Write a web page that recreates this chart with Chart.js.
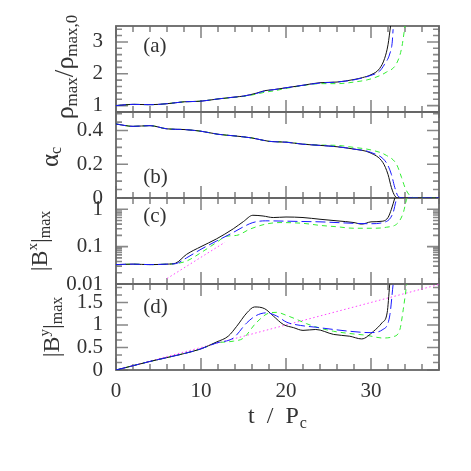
<!DOCTYPE html>
<html lang="en">
<head>
  <meta charset="UTF-8">
  <title>Collapse diagnostics</title>
  <script src="https://cdn.jsdelivr.net/npm/chart.js"></script>
  <style>
    html, body { margin: 0; padding: 0; background: #fff; }
  </style>
</head>
<body>
  <canvas id="myChart" width="471" height="471"></canvas>

  <script>
    // tick labels
    const xTicks = [0, 10, 20, 30];
    const rhoTicks = [1, 2, 3];
    const alphaTicks = [0, 0.2, 0.4];
    const bxTicks = [0.01, 0.1, 1];
    const byTicks = [0, 0.5, 1, 1.5];

    // (a) rho_max / rho_max,0
    const rhoBlackT = [0, 2, 4, 6, 8, 10, 12, 14, 15, 16.5, 17.5, 18.5, 20, 22, 24, 26, 28, 29, 30, 31, 31.6, 32, 32.3];
    const rhoBlack  = [1.0, 1.04, 1.03, 1.06, 1.12, 1.14, 1.21, 1.27, 1.3, 1.39, 1.47, 1.5, 1.56, 1.64, 1.72, 1.74, 1.82, 1.88, 1.97, 2.16, 2.48, 2.91, 3.5];
    const rhoBlueT  = [0, 2, 4, 6, 8, 10, 12, 14, 15, 16.5, 17.5, 18.5, 20, 22, 24, 26, 28, 29, 30, 31, 31.6, 32.2, 32.5, 32.6];
    const rhoBlue   = [1.0, 1.04, 1.03, 1.06, 1.12, 1.14, 1.21, 1.27, 1.3, 1.38, 1.46, 1.5, 1.56, 1.64, 1.71, 1.74, 1.81, 1.87, 1.95, 2.08, 2.3, 2.62, 3.0, 3.4];
    const rhoGreenT = [0, 2, 4, 6, 8, 10, 12, 14, 15, 16.5, 17.5, 18.5, 20, 22, 24, 26, 28, 30, 31.8, 33, 33.6, 34];
    const rhoGreen  = [1.0, 1.04, 1.03, 1.06, 1.12, 1.14, 1.21, 1.26, 1.29, 1.36, 1.42, 1.46, 1.54, 1.63, 1.69, 1.69, 1.74, 1.84, 2.05, 2.32, 2.8, 3.5];

    // (b) alpha_c
    const alphaBlackT = [0, 2, 4, 6, 8, 10, 12, 14, 16, 18, 20, 22, 24, 26, 28, 29.9, 31.4, 32, 32.4, 32.8, 33.2, 38];
    const alphaBlack  = [0.439, 0.425, 0.429, 0.41, 0.406, 0.396, 0.378, 0.368, 0.356, 0.336, 0.331, 0.319, 0.312, 0.304, 0.29, 0.268, 0.21, 0.14, 0.062, 0.013, 0, 0];
    const alphaBlueT  = [0, 2, 4, 6, 8, 10, 12, 14, 16, 18, 20, 22, 24, 26, 28, 30, 31.8, 32.4, 32.8, 33.2, 33.8, 38];
    const alphaBlue   = [0.439, 0.425, 0.429, 0.41, 0.406, 0.396, 0.378, 0.368, 0.356, 0.336, 0.331, 0.319, 0.312, 0.304, 0.29, 0.27, 0.21, 0.14, 0.062, 0.01, 0, 0];
    const alphaGreenT = [0, 2, 4, 6, 8, 10, 12, 14, 16, 18, 20, 22, 24, 26, 28, 30, 31.8, 33, 33.6, 34, 34.6, 35.4, 38];
    const alphaGreen  = [0.439, 0.425, 0.429, 0.41, 0.406, 0.396, 0.378, 0.368, 0.356, 0.336, 0.332, 0.32, 0.314, 0.312, 0.3, 0.285, 0.253, 0.2, 0.121, 0.062, 0.013, 0, 0];

    // (c) |B^x|_max
    const bxBlackT = [0, 2, 4, 6, 7, 8.3, 10, 11.8, 13.8, 15, 16.1, 17.3, 18.5, 20, 22, 24, 26, 28, 28.9, 30, 31.4, 32, 32.4, 32.8];
    const bxBlack  = [0.033, 0.034, 0.033, 0.034, 0.036, 0.062, 0.1, 0.16, 0.3, 0.47, 0.69, 0.66, 0.6, 0.62, 0.6, 0.54, 0.49, 0.44, 0.4, 0.46, 0.48, 0.6, 1.0, 2.0];
    const bxBlueT  = [0, 2, 4, 6, 7, 8.3, 10, 11.8, 13.8, 15, 16.1, 17.6, 20, 22, 24, 26, 28, 29.9, 31.8, 32.6, 33, 33.1];
    const bxBlue   = [0.033, 0.034, 0.033, 0.034, 0.035, 0.05, 0.085, 0.14, 0.24, 0.34, 0.44, 0.49, 0.48, 0.47, 0.46, 0.44, 0.42, 0.41, 0.47, 0.81, 1.85, 2.0];
    const bxGreenT = [0, 2, 4, 6, 7, 8.3, 10, 11.8, 13, 14.2, 15.7, 17.6, 19.3, 22, 24, 26, 28, 30, 31.8, 33.2, 33.8, 34.2, 34.3];
    const bxGreen  = [0.033, 0.034, 0.033, 0.034, 0.035, 0.041, 0.069, 0.128, 0.19, 0.2, 0.29, 0.4, 0.44, 0.42, 0.37, 0.34, 0.31, 0.31, 0.33, 0.44, 0.81, 1.85, 2.0];
    const bxFitT = [6, 12.8];
    const bxFit  = [0.014, 0.13];

    // (d) |B^y|_max
    const byBlackT = [0, 4, 7.9, 10, 11.8, 13.2, 14.2, 15.4, 16.3, 17.5, 18.5, 19.7, 20.9, 22, 23.5, 25.6, 27.5, 28.9, 30.3, 31.3, 31.9, 32.2];
    const byBlack  = [0, 0.19, 0.36, 0.47, 0.62, 0.75, 0.97, 1.27, 1.4, 1.36, 1.2, 1.01, 0.94, 0.88, 0.9, 0.79, 0.75, 0.69, 0.86, 1.05, 1.27, 1.9];
    const byBlueT  = [0, 4, 7.9, 10, 11.8, 13.8, 15.4, 16.5, 17.7, 18.9, 20.1, 21.7, 23.5, 25.6, 27.5, 29.9, 31.4, 32.2, 32.6];
    const byBlue   = [0, 0.19, 0.36, 0.47, 0.6, 0.71, 1.05, 1.21, 1.27, 1.2, 1.06, 0.99, 0.95, 0.9, 0.86, 0.83, 0.9, 1.2, 1.9];
    const byGreenT = [0, 4, 7.9, 10, 11.8, 13.8, 15, 16.5, 18.1, 18.9, 20.1, 21.3, 22.4, 24, 25.6, 27.5, 29.5, 31.4, 32.6, 33.4, 33.8, 34.2];
    const byGreen  = [0, 0.19, 0.36, 0.47, 0.6, 0.64, 0.71, 1.05, 1.27, 1.28, 1.21, 1.12, 1.03, 0.93, 0.86, 0.81, 0.77, 0.71, 0.74, 0.9, 1.35, 1.9];
    const byFitT = [0, 38];
    const byFit  = [0, 1.9];

    const FONT = '"Liberation Serif", "DejaVu Serif", serif';

    function series(ts, vs, axis, color, dash) {
      return {
        data: ts.map((t, i) => ({ x: t, y: vs[i] })),
        yAxisID: axis,
        borderColor: color,
        borderDash: dash,
        borderWidth: 1,
        pointRadius: 0,
        fill: false,
        cubicInterpolationMode: 'monotone'
      };
    }

    const BLUE = '#1a1aff', BLACK = '#111', GREEN = '#33ee33', PINK = '#ff44ff';
    const LONG = [10, 4], SHORT = [5, 4], DOT = [1.5, 2.5];

    // first dataset is drawn on top
    const datasets = [
      series(rhoBlueT, rhoBlue, 'yA', BLUE, LONG),
      series(rhoBlackT, rhoBlack, 'yA', BLACK, []),
      series(rhoGreenT, rhoGreen, 'yA', GREEN, SHORT),
      series(alphaBlueT, alphaBlue, 'yB', BLUE, LONG),
      series(alphaBlackT, alphaBlack, 'yB', BLACK, []),
      series(alphaGreenT, alphaGreen, 'yB', GREEN, SHORT),
      series(bxBlueT, bxBlue, 'yC', BLUE, LONG),
      series(bxBlackT, bxBlack, 'yC', BLACK, []),
      series(bxGreenT, bxGreen, 'yC', GREEN, SHORT),
      series(bxFitT, bxFit, 'yC', PINK, DOT),
      series(byBlueT, byBlue, 'yD', BLUE, LONG),
      series(byBlackT, byBlack, 'yD', BLACK, []),
      series(byGreenT, byGreen, 'yD', GREEN, SHORT),
      series(byFitT, byFit, 'yD', PINK, DOT)
    ];

    function yScale(type, min, max, ticks, minorStep) {
      return {
        type: type,
        min: min,
        max: max,
        position: 'left',
        stack: 'panels',
        stackWeight: 1,
        minorStep: minorStep,
        majorTicks: ticks,
        grid: { display: false, drawTicks: false },
        border: { display: false },
        afterBuildTicks: s => { s.ticks = ticks.map(v => ({ value: v })); },
        afterFit: s => { s.width = 116; },
        ticks: {
          autoSkip: false,
          padding: 13,
          color: '#333',
          font: { family: FONT, size: 21 },
          callback: v => String(v)
        }
      };
    }

    // draws text rotated by -90deg, centred on (x baseline, cy)
    function vertText(ctx, bx, cy, parts) {
      ctx.save();
      ctx.translate(bx, cy);
      ctx.rotate(-Math.PI / 2);
      ctx.fillStyle = '#333';
      ctx.textBaseline = 'alphabetic';
      ctx.textAlign = 'left';
      let w = 0;
      parts.forEach(p => { ctx.font = p[1] + 'px ' + FONT; w += ctx.measureText(p[0]).width; });
      let x = -w / 2;
      parts.forEach(p => {
        ctx.font = p[1] + 'px ' + FONT;
        ctx.fillText(p[0], x, p[2] || 0);
        x += ctx.measureText(p[0]).width;
      });
      ctx.restore();
    }

    function minorValues(s) {
      const out = [];
      if (s.type === 'logarithmic') {
        for (let d = -2; d <= 0; d++) {
          for (let k = 2; k <= 9; k++) {
            const v = k * Math.pow(10, d);
            if (v <= s.max * 1.0001) out.push(v);
          }
        }
      } else {
        const step = s.options.minorStep;
        const n = Math.round((s.max - s.min) / step);
        for (let i = 0; i <= n + 1; i++) {
          const v = Math.ceil(s.min / step - 1e-6) * step + i * step;
          if (v <= s.max + 1e-9) out.push(v);
        }
      }
      return out;
    }

    const panelLabels = [
      ['yA', '(a)', 2.85],
      ['yB', '(b)', 0.12],
      ['yC', '(c)', 0.65],
      ['yD', '(d)', 1.39]
    ];

    const framePlugin = {
      id: 'frame',
      beforeDatasetsDraw(chart) {
        const ctx = chart.ctx, a = chart.chartArea, xs = chart.scales.x;
        ctx.save();
        ['yA', 'yB', 'yC', 'yD'].forEach(id => {
          const s = chart.scales[id];
          // ticks
          ctx.strokeStyle = '#888';
          ctx.lineWidth = 1.6;
          ctx.beginPath();
          for (let t = 0; t <= 38; t += 2) {
            const px = xs.getPixelForValue(t);
            const len = (t % 10 === 0) ? 12 : 6;
            ctx.moveTo(px, s.top); ctx.lineTo(px, s.top + len);
            ctx.moveTo(px, s.bottom); ctx.lineTo(px, s.bottom - len);
          }
          const major = s.options.majorTicks;
          minorValues(s).forEach(v => {
            const py = s.getPixelForValue(v);
            ctx.moveTo(a.left, py); ctx.lineTo(a.left + 6, py);
            ctx.moveTo(a.right, py); ctx.lineTo(a.right - 6, py);
          });
          major.forEach(v => {
            const py = s.getPixelForValue(v);
            ctx.moveTo(a.left, py); ctx.lineTo(a.left + 12, py);
            ctx.moveTo(a.right, py); ctx.lineTo(a.right - 12, py);
          });
          ctx.stroke();
          // frame
          ctx.strokeStyle = '#666';
          ctx.lineWidth = 1.8;
          ctx.strokeRect(a.left, s.top, a.right - a.left, s.bottom - s.top);
        });
        ctx.restore();
      },
      beforeDatasetDraw(chart, args) {
        const s = chart.scales[args.meta.yAxisID], a = chart.chartArea;
        chart.ctx.save();
        chart.ctx.beginPath();
        chart.ctx.rect(a.left, s.top, a.right - a.left, s.bottom - s.top);
        chart.ctx.clip();
      },
      afterDatasetDraw(chart) {
        chart.ctx.restore();
      },
      afterDraw(chart) {
        const ctx = chart.ctx, xs = chart.scales.x;
        ctx.save();
        ctx.fillStyle = '#333';
        ctx.font = '21px ' + FONT;
        ctx.textBaseline = 'middle';
        panelLabels.forEach(p => {
          ctx.fillText(p[1], xs.getPixelForValue(3.2), chart.scales[p[0]].getPixelForValue(p[2]));
        });
        ctx.restore();

        const yA = chart.scales.yA, yB = chart.scales.yB, yC = chart.scales.yC, yD = chart.scales.yD;
        vertText(ctx, 73, (yA.top + yA.bottom) / 2 - 2, [['\u03c1', 26], ['max', 17, 4], ['/', 27], ['\u03c1', 26], ['max,0', 17, 4]]);
        vertText(ctx, 58, (yB.top + yB.bottom) / 2 + 2, [['\u03b1', 25], ['c', 16, 3]]);
        vertText(ctx, 47, (yC.top + yC.bottom) / 2, [['|B', 24], ['x', 15, -10], ['|', 24], ['max', 16, 3]]);
        vertText(ctx, 59, (yD.top + yD.bottom) / 2, [['|B', 24], ['y', 15, -10], ['|', 24], ['max', 16, 3]]);

        // x title
        ctx.save();
        ctx.fillStyle = '#333';
        ctx.textBaseline = 'alphabetic';
        ctx.font = '24px ' + FONT;
        const main = 't  /  P';
        const w1 = ctx.measureText(main).width;
        ctx.font = '16px ' + FONT;
        const w2 = ctx.measureText('c').width;
        const x0 = 277 - (w1 + w2) / 2;
        ctx.font = '24px ' + FONT;
        ctx.fillText(main, x0, 423);
        ctx.font = '16px ' + FONT;
        ctx.fillText('c', x0 + w1 + 1, 428);
        ctx.restore();
      }
    };

    new Chart(document.getElementById('myChart'), {
      type: 'line',
      data: { datasets: datasets },
      options: {
        responsive: false,
        animation: false,
        layout: { padding: { top: 26, right: 32, left: 0, bottom: 0 } },
        plugins: { legend: { display: false }, tooltip: { enabled: false } },
        scales: {
          x: {
            type: 'linear',
            min: 0,
            max: 38,
            grid: { display: false, drawTicks: false },
            border: { display: false },
            afterBuildTicks: s => { s.ticks = xTicks.map(v => ({ value: v })); },
            afterFit: s => { s.height = 101; },
            ticks: {
              padding: 9,
              color: '#333',
              font: { family: FONT, size: 21 },
              maxRotation: 0,
              callback: v => String(v)
            }
          },
          // last stacked axis ends up on top
          yD: yScale('linear', 0, 1.91, byTicks, 0.5 / 3),
          yC: yScale('logarithmic', 0.01, 2, bxTicks, null),
          yB: yScale('linear', 0, 0.51, alphaTicks, 0.05),
          yA: yScale('linear', 0.8, 3.5, rhoTicks, 0.2)
        }
      },
      plugins: [framePlugin]
    });
  </script>
</body>
</html>
